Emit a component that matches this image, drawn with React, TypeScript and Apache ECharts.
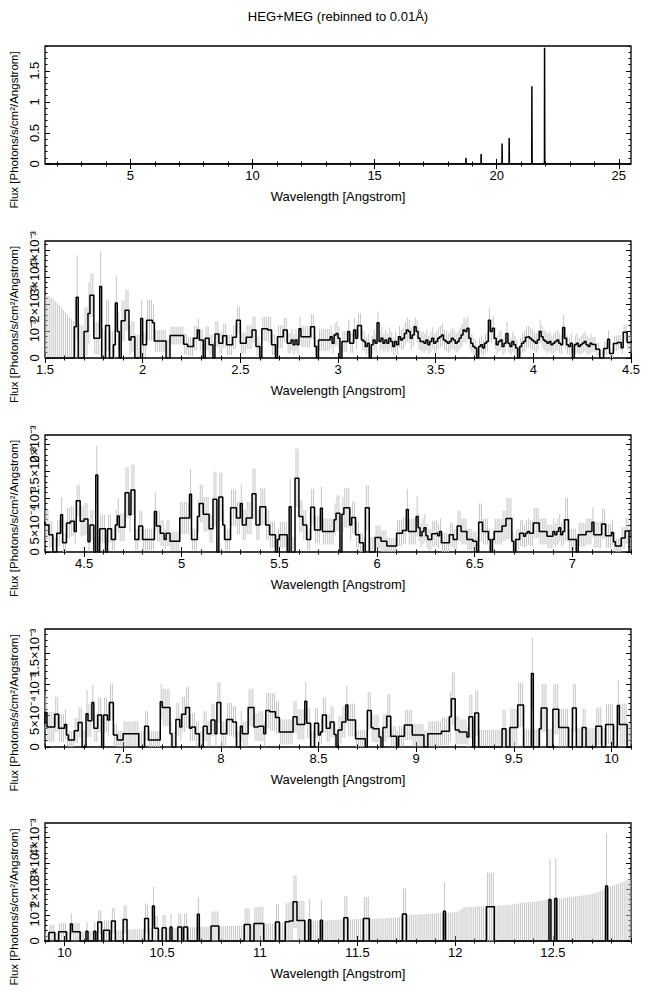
import React, { useEffect, useRef } from "react";
import * as echarts from "echarts";

// ---------------- texts ----------------
const TITLE = "HEG+MEG (rebinned to 0.01Å)";
const X_TITLE = "Wavelength [Angstrom]";
const Y_TITLE = "Flux [Photons/s/cm²/Angstrom]";

// ---------------- data ----------------
// 0.01 Å bins starting at 1.50 Å; values in units of 1e-5 photons/s/cm²/Å
const BIN_START = 1.5;
const BIN_WIDTH = 0.01;
const FLUX_UNIT = 1e-5;

const fluxE5 = [
  0,0,0,0,0,0,0,0,0,0,
  0,0,0,0,0,116,225,0,0,0,
  98,98,165,232,232,73,73,73,265,0,
  0,120,120,0,0,49,204,98,0,138,
  138,177,177,67,79,79,0,0,0,146,
  49,49,140,140,140,130,63,63,63,63,
  63,63,0,0,83,83,83,83,83,83,
  83,51,51,43,43,43,73,73,104,67,
  67,0,73,73,49,49,0,89,89,55,
  55,82,82,49,49,49,77,77,140,140,
  55,55,55,77,77,77,104,104,43,43,
  0,108,108,108,104,104,49,49,0,79,
  79,79,104,104,55,55,67,49,67,49,
  108,79,79,79,79,79,116,116,43,0,
  67,67,67,67,67,67,79,55,85,91,
  73,0,61,61,61,98,55,55,104,73,
  120,120,67,61,43,55,0,49,67,55,
  130,61,73,55,67,55,73,61,43,61,
  49,79,67,73,91,104,98,73,85,116,
  98,73,61,61,55,67,49,61,73,55,
  61,73,79,85,67,61,55,61,73,67,
  55,61,73,85,104,98,110,73,55,43,
  37,0,43,49,37,55,61,140,98,110,
  73,49,61,67,43,55,91,55,43,61,
  49,37,0,43,55,61,77,79,73,67,
  61,55,67,98,79,67,61,55,61,49,
  55,61,67,55,49,113,73,49,43,55,
  0,49,55,43,49,55,61,49,43,55,
  50,50,32,32,0,0,35,35,69,17,
  17,54,54,57,57,38,95,95,57,57,
  61,61,19,50,50,0,143,0,43,43,
  43,0,43,43,23,23,50,67,46,46,
  46,110,110,69,115,115,23,23,48,48,
  23,23,23,23,23,23,75,48,48,35,
  35,23,35,35,20,20,20,20,20,63,
  63,63,63,63,107,23,23,23,66,90,
  90,70,70,70,43,43,98,98,0,102,
  102,50,23,23,23,82,82,82,63,63,
  90,50,50,63,63,63,108,108,50,50,
  84,84,84,50,50,32,32,32,0,23,
  32,32,32,32,0,84,0,0,137,137,
  66,66,50,50,23,23,83,83,41,41,
  41,81,38,38,38,38,38,38,60,72,
  72,0,70,82,82,82,50,64,64,32,
  32,17,17,0,82,82,0,0,0,27,
  27,27,20,20,20,11,11,11,11,11,
  35,35,35,40,40,79,38,38,38,38,
  66,45,30,38,45,30,23,23,34,34,
  35,30,38,17,17,17,17,32,32,23,
  23,48,48,38,38,38,23,23,23,20,
  20,0,55,55,38,38,38,23,0,23,
  38,38,38,38,48,48,62,62,62,20,
  0,23,23,35,35,29,35,38,35,35,
  54,54,54,38,38,38,38,29,29,29,
  38,32,38,45,32,38,60,60,23,23,
  23,23,0,32,32,32,32,38,38,38,
  55,32,32,32,32,52,52,30,30,30,
  36,19,11,11,11,26,26,39,39,0,
  0,53,42,42,71,30,30,51,51,0,
  51,51,43,71,71,19,19,11,11,11,
  21,21,21,21,21,21,21,21,0,0,
  0,33,33,11,11,11,11,11,11,72,
  63,63,63,63,21,0,0,44,44,32,
  52,52,63,63,30,32,32,21,21,0,
  0,33,33,21,21,43,43,21,71,71,
  21,21,21,44,44,44,40,40,0,0,
  33,21,21,21,63,63,63,32,32,33,
  33,33,21,58,58,56,56,56,47,47,
  24,24,24,24,24,24,24,48,48,36,
  36,36,36,73,38,38,0,0,38,38,
  19,24,51,51,30,30,40,40,20,0,
  27,27,40,40,67,43,43,43,43,13,
  13,13,13,13,0,58,58,31,29,29,
  29,16,0,31,31,49,49,17,17,17,
  0,17,17,17,35,35,35,35,19,19,
  19,19,19,19,0,0,21,21,21,21,
  21,21,21,25,25,25,25,48,77,77,
  27,27,24,24,24,24,16,48,48,0,
  54,54,0,0,0,0,0,0,0,0,
  0,0,0,0,29,29,0,0,31,31,
  31,31,67,67,67,0,0,0,0,117,
  0,0,0,29,62,62,62,0,0,0,
  60,60,60,31,31,31,31,31,0,0,
  62,62,0,0,0,31,31,0,0,0,
  0,0,33,33,33,0,0,36,36,36,
  36,0,0,66,36,36,36,36,0,0,
  0,38,0,0,0,38,0,73,73,0,
  41,41,41,0,77,77,0,0,0,0,
  83,83,0,0,0,0,0,0,0,0,
  0,87,87,0,0,135,49,49,0,0,
  51,51,0,0,54,0,0,0,54,54,
  0,54,54,0,0,0,0,0,103,0,
  0,0,0,0,0,58,58,58,58,0,
  0,0,0,0,0,0,0,0,0,0,
  0,0,64,64,64,0,0,67,67,67,
  67,67,0,0,0,0,0,0,73,73,
  0,0,0,74,74,77,77,151,151,79,
  79,79,79,0,0,82,0,0,0,0,
  0,80,0,0,0,0,0,0,0,0,
  0,0,0,90,90,0,0,0,0,0,
  0,0,0,87,87,87,0,0,0,0,
  0,0,0,0,0,0,0,0,0,0,
  0,0,0,104,104,0,0,0,0,0,
  0,0,0,0,0,0,0,0,0,0,
  0,0,0,0,115,0,0,0,0,0,
  0,0,0,0,0,0,0,0,0,0,
  0,0,0,0,0,0,132,132,132,132,
  0,0,0,0,0,0,0,0,0,0,
  0,0,0,0,0,0,0,0,0,0,
  0,0,0,0,0,0,0,0,160,0,
  0,164,0,0,0,0,0,0,0,0,
  0,0,0,0,0,0,0,0,0,0,
  0,0,0,0,0,0,0,212,0,0,
  0,0,0,0,0,0,0,0,0,0,
];

// 1-sigma error per bin, same units
const errE5 = [
  232,230,226,222,217,210,203,195,186,177,
  168,160,152,144,136,110,155,125,122,118,
  90,90,115,81,81,60,60,60,129,110,
  105,95,95,100,98,55,101,70,95,75,
  75,75,75,55,58,58,88,86,85,70,
  45,45,75,75,75,70,41,41,41,41,
  41,41,70,70,33,33,33,33,33,33,
  33,38,38,35,35,35,45,45,42,40,
  40,62,45,45,38,38,60,48,48,40,
  40,45,45,38,38,38,44,44,49,49,
  40,40,40,44,44,44,50,50,36,36,
  55,45,45,45,48,48,38,38,52,42,
  42,42,45,45,38,38,40,36,40,36,
  45,40,40,40,40,40,46,46,35,48,
  40,40,40,40,40,40,42,38,43,44,
  42,45,38,38,38,44,36,36,45,40,
  45,45,38,37,32,36,42,34,38,36,
  41,37,40,35,38,35,40,37,32,37,
  34,40,38,40,42,45,44,40,42,34,
  42,40,37,37,36,38,34,37,40,36,
  37,40,40,42,38,37,36,37,40,38,
  36,37,40,42,45,44,45,40,36,32,
  30,38,32,34,30,36,37,43,44,45,
  40,34,37,38,32,36,43,36,32,37,
  34,30,35,32,36,37,40,40,40,38,
  37,36,38,44,40,38,37,36,37,34,
  36,37,38,36,34,45,40,34,32,36,
  32,34,36,32,34,36,37,34,32,36,
  28,28,24,24,28,28,24,24,33,18,
  18,28,28,28,28,24,29,29,28,28,
  30,30,18,28,28,28,54,28,26,26,
  26,28,26,26,20,20,28,32,26,26,
  26,47,47,32,47,47,20,20,28,28,
  20,20,20,20,20,20,35,28,28,24,
  24,20,24,24,18,18,18,18,18,30,
  30,30,30,30,47,20,20,20,30,35,
  35,32,32,32,26,26,51,51,28,45,
  45,28,20,20,20,34,34,34,30,30,
  35,28,28,30,30,30,47,47,28,28,
  34,34,34,28,28,24,24,24,28,20,
  24,24,24,24,28,51,28,28,55,55,
  30,30,28,28,20,20,34,34,25,25,
  25,40,24,24,24,24,24,24,30,33,
  33,28,32,37,37,37,28,30,30,24,
  24,18,18,28,42,42,28,28,28,22,
  22,22,20,20,20,15,15,15,15,15,
  24,24,24,25,25,38,24,24,24,24,
  38,26,22,24,26,22,20,20,24,24,
  24,22,24,18,18,18,18,22,22,20,
  20,28,28,24,24,24,20,20,20,18,
  18,28,35,35,24,24,24,20,28,20,
  24,24,24,24,28,28,38,38,38,18,
  28,20,20,24,24,22,24,24,24,24,
  28,28,28,24,24,24,24,22,22,22,
  24,22,24,26,22,24,40,40,20,20,
  20,20,28,22,22,22,22,24,24,24,
  28,24,24,24,24,28,28,22,22,22,
  24,18,14,14,14,20,20,24,24,26,
  26,38,26,26,28,22,22,28,28,26,
  28,28,26,30,30,18,18,14,14,14,
  20,20,20,20,20,20,20,20,25,25,
  25,24,24,14,14,14,14,14,14,28,
  30,30,30,30,20,25,25,26,26,22,
  28,28,33,33,22,22,22,20,20,25,
  25,24,24,20,20,26,26,20,32,32,
  20,20,20,26,26,26,25,25,25,25,
  24,20,20,20,30,30,30,22,22,24,
  24,24,20,28,28,30,30,30,26,26,
  20,20,20,20,20,20,20,26,26,24,
  24,24,24,30,24,24,25,25,24,24,
  18,20,28,28,22,22,25,25,18,25,
  22,22,25,25,30,26,26,26,26,14,
  14,14,14,14,25,30,30,22,22,22,
  22,16,25,22,22,35,35,16,16,16,
  25,16,16,16,24,24,24,24,18,18,
  18,18,18,18,26,26,20,20,20,20,
  20,20,20,22,22,22,22,40,42,42,
  22,22,20,20,20,20,16,35,35,27,
  36,36,27,27,27,27,27,27,27,27,
  27,27,27,27,30,30,28,28,30,30,
  30,30,35,35,35,28,28,28,28,57,
  28,28,28,28,38,38,38,29,29,29,
  40,40,40,30,30,30,30,30,30,30,
  38,38,30,30,30,30,30,30,30,30,
  30,30,30,30,30,30,30,32,32,32,
  32,34,34,40,33,33,33,33,36,36,
  37,36,37,37,38,37,38,45,45,38,
  39,39,39,40,49,49,41,42,42,43,
  55,55,44,44,45,45,45,45,46,46,
  46,57,57,47,47,73,47,47,48,48,
  49,49,49,50,52,50,50,50,52,52,
  51,52,52,52,53,53,53,54,66,54,
  55,55,55,56,56,56,56,56,56,57,
  57,57,58,58,58,59,59,59,60,60,
  60,61,62,62,62,63,63,64,64,64,
  65,65,66,66,67,67,68,68,70,70,
  70,71,71,72,72,74,74,102,102,76,
  76,76,76,77,78,80,78,78,79,79,
  79,79,80,80,80,81,81,81,82,82,
  82,83,83,83,83,84,84,84,84,85,
  85,85,86,83,83,83,86,86,86,87,
  87,87,88,88,88,89,89,89,90,90,
  91,92,95,99,99,100,100,101,101,102,
  102,102,103,103,104,104,105,105,106,106,
  107,107,108,108,109,109,110,110,111,112,
  113,114,118,124,130,131,131,132,132,132,
  133,133,133,134,134,134,132,132,132,132,
  136,137,137,138,138,139,139,140,140,141,
  143,144,145,146,147,148,148,149,150,151,
  152,153,154,155,156,157,158,158,155,160,
  162,156,163,164,165,166,167,168,169,170,
  171,172,173,174,175,176,177,178,179,180,
  182,184,186,189,192,196,200,202,206,209,
  212,215,218,221,224,227,230,234,238,242,
];

// strong lines at long wavelengths (panel 1), bin left edge [Å] and flux
const lineWave = [18.74, 19.36, 20.22, 20.51, 21.44, 21.96];
const lineFlux = [0.10, 0.16, 0.33, 0.42, 1.25, 1.87];
const LONG_END = 25.5;

// ---------------- panels / axes ----------------
const panelXRange = [[1.5, 25.5], [1.5, 4.5], [4.3, 7.3], [7.1, 10.1], [9.9, 12.9]];
const panelYMax = [1.9, 4.33e-3, 2.17e-3, 1.88e-3, 4.55e-3];
const xMajor = [
  [5, 10, 15, 20, 25],
  [1.5, 2, 2.5, 3, 3.5, 4, 4.5],
  [4.5, 5, 5.5, 6, 6.5, 7],
  [7.5, 8, 8.5, 9, 9.5, 10],
  [10, 10.5, 11, 11.5, 12, 12.5],
];
const xMinorStep = [1, 0.1, 0.1, 0.1, 0.1];
const yMajor = [
  [0, 0.5, 1, 1.5],
  [0, 1e-3, 2e-3, 3e-3, 4e-3],
  [0, 5e-4, 1e-3, 1.5e-3, 2e-3],
  [0, 5e-4, 1e-3, 1.5e-3],
  [0, 1e-3, 2e-3, 3e-3, 4e-3],
];
const yMajorLabels = [
  ["0", "0.5", "1", "1.5"],
  ["0", "10⁻³", "2×10⁻³", "3×10⁻³", "4×10⁻³"],
  ["0", "5×10⁻⁴", "10⁻³", "1.5×10⁻³", "2×10⁻³"],
  ["0", "5×10⁻⁴", "10⁻³", "1.5×10⁻³"],
  ["0", "10⁻³", "2×10⁻³", "3×10⁻³", "4×10⁻³"],
];
const yMinorStep = [0.1, 2e-4, 1e-4, 1e-4, 2e-4];

// layout
const GRID_LEFT = 45;
const GRID_WIDTH = 586;
const panelTop = [46, 241, 435, 629, 823];
const panelHeight = [118, 117, 117, 118, 118];
const FONT = "'Liberation Sans', Arial, Helvetica, sans-serif";

function range(min: number, max: number, step: number): number[] {
  const out: number[] = [];
  const s = Math.ceil(min / step - 1e-9);
  const e = Math.floor(max / step + 1e-9);
  for (let k = s; k <= e; k++) out.push(Number((k * step).toFixed(8)));
  return out;
}

function binCenter(i: number) {
  return Number((BIN_START + (i + 0.5) * BIN_WIDTH).toFixed(4));
}

function buildOption() {
  const grids: any[] = [];
  const xAxes: any[] = [];
  const yAxes: any[] = [];
  const series: any[] = [];
  const tickStyle = { color: "#000", width: 1 };
  const labelStyle = { color: "#000", fontSize: 13, fontFamily: FONT };
  const yLabelStyle = { color: "#000", fontSize: 11.5, fontFamily: FONT };
  const axesPerPanelY = 5;

  panelXRange.forEach(([xmin, xmax], p) => {
    const ymax = panelYMax[p];
    grids.push({
      left: GRID_LEFT, width: GRID_WIDTH, top: panelTop[p], height: panelHeight[p],
      show: true, borderColor: "#000", borderWidth: 1.3, backgroundColor: "transparent",
    });
    const xMinor = range(xmin, xmax, xMinorStep[p]);
    const yMinor = range(0, ymax, yMinorStep[p]);
    const baseX = { type: "value", gridIndex: p, min: xmin, max: xmax, axisLine: { show: false }, splitLine: { show: false } };
    const baseY = { type: "value", gridIndex: p, min: 0, max: ymax, axisLine: { show: false }, splitLine: { show: false } };

    xAxes.push({
      ...baseX, position: "bottom",
      axisTick: { show: true, inside: true, length: 5, customValues: xMajor[p], lineStyle: tickStyle },
      axisLabel: { show: true, customValues: xMajor[p], interval: 0, hideOverlap: false, margin: 5, ...labelStyle,
        showMinLabel: true, showMaxLabel: true,
        formatter: (v: number) => String(Number(v.toFixed(3))) },
      name: X_TITLE, nameLocation: "middle", nameGap: 26,
      nameTextStyle: { ...labelStyle },
    });
    xAxes.push({ ...baseX, position: "bottom",
      axisTick: { show: true, inside: true, length: 2.5, customValues: xMinor, lineStyle: tickStyle }, axisLabel: { show: false } });
    xAxes.push({ ...baseX, position: "top",
      axisTick: { show: true, inside: true, length: 5, customValues: xMajor[p], lineStyle: tickStyle }, axisLabel: { show: false } });
    xAxes.push({ ...baseX, position: "top",
      axisTick: { show: true, inside: true, length: 2.5, customValues: xMinor, lineStyle: tickStyle }, axisLabel: { show: false } });

    const labels = yMajorLabels[p];
    const majors = yMajor[p];
    const fmtY = (v: number) => {
      const i = majors.findIndex((t) => Math.abs(t - v) <= ymax * 1e-6);
      return i >= 0 ? labels[i] : "";
    };
    const evenVals = majors.filter((_, i) => i % 2 === 0);
    const oddVals = majors.filter((_, i) => i % 2 === 1);
    const yLabelCommon = { show: true, interval: 0, hideOverlap: false, margin: 4, rotate: 90, ...labelStyle,
      showMinLabel: true, showMaxLabel: true, formatter: fmtY };
    yAxes.push({
      ...baseY, position: "left",
      axisTick: { show: true, inside: true, length: 5, customValues: majors, lineStyle: tickStyle },
      axisLabel: { ...yLabelCommon, customValues: evenVals },
      name: Y_TITLE, nameLocation: "middle", nameGap: 24, nameRotate: 90,
      nameTextStyle: { ...yLabelStyle, padding: [0, 50, 0, 0] },
    });
    yAxes.push({ ...baseY, position: "left",
      axisTick: { show: false }, axisLabel: { ...yLabelCommon, customValues: oddVals } });
    yAxes.push({ ...baseY, position: "left",
      axisTick: { show: true, inside: true, length: 2.5, customValues: yMinor, lineStyle: tickStyle }, axisLabel: { show: false } });
    yAxes.push({ ...baseY, position: "right",
      axisTick: { show: true, inside: true, length: 5, customValues: majors, lineStyle: tickStyle }, axisLabel: { show: false } });
    yAxes.push({ ...baseY, position: "right",
      axisTick: { show: true, inside: true, length: 2.5, customValues: yMinor, lineStyle: tickStyle }, axisLabel: { show: false } });

    // step-line data for this panel
    const stepData: number[][] = [];
    const errData: number[][] = [];
    for (let i = 0; i < fluxE5.length; i++) {
      const c = binCenter(i);
      if (c < xmin - BIN_WIDTH || c > xmax + BIN_WIDTH) continue;
      const v = fluxE5[i] * FLUX_UNIT;
      const e = errE5[i] * FLUX_UNIT;
      stepData.push([c, v]);
      if (c >= xmin && c <= xmax) errData.push([c, Math.max(0, v - e), Math.min(v + e, ymax)]);
    }
    if (p === 0) {
      lineWave.forEach((w, k) => {
        const c = Number((w + BIN_WIDTH / 2).toFixed(4));
        stepData.push([c - BIN_WIDTH, 0], [c, lineFlux[k]], [c + BIN_WIDTH, 0]);
      });
      stepData.push([LONG_END, 0]);
    }

    const xi = p * 4;
    const yi = p * axesPerPanelY;
    if (p > 0) {
      series.push({
        type: "custom", xAxisIndex: xi, yAxisIndex: yi, silent: true, z: 2,
        data: errData,
        renderItem: (_params: any, api: any) => {
          const a = api.coord([api.value(0), api.value(1)]);
          const b = api.coord([api.value(0), api.value(2)]);
          return {
            type: "line",
            shape: { x1: a[0], y1: a[1], x2: b[0], y2: b[1] },
            style: { stroke: "#c6c6c6", lineWidth: 1 },
          };
        },
      });
    }
    series.push({
      type: "line", xAxisIndex: xi, yAxisIndex: yi, step: "middle", symbol: "none", showSymbol: false,
      data: stepData, silent: true, z: 3, clip: true,
      lineStyle: { color: "#000", width: 1.5 },
    });
  });

  return {
    animation: false,
    backgroundColor: "#fff",
    title: {
      text: TITLE, left: 338, top: 10, textAlign: "center", padding: 0,
      textStyle: { fontSize: 13, fontWeight: "normal", color: "#000", fontFamily: FONT },
    },
    grid: grids,
    xAxis: xAxes,
    yAxis: yAxes,
    series,
  };
}

export default function App() {
  const ref = useRef<HTMLDivElement>(null);
  useEffect(() => {
    if (!ref.current) return;
    const chart = echarts.init(ref.current, null, { renderer: "svg" });
    chart.setOption(buildOption() as any);
    return () => chart.dispose();
  }, []);
  return (
    <div
      ref={ref}
      style={{ position: "fixed", left: 0, top: 0, width: 650, height: 991, background: "#fff" }}
    />
  );
}
